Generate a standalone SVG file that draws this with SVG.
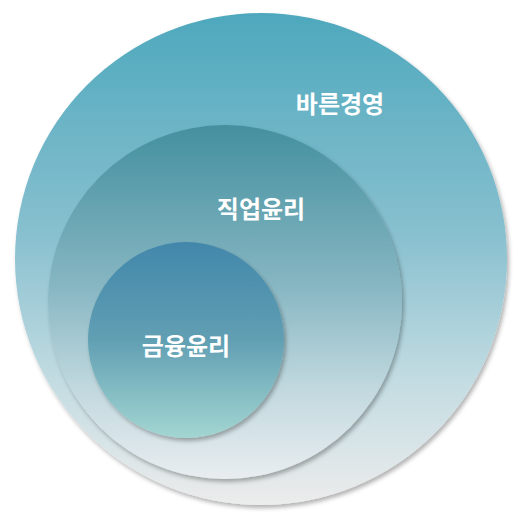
<svg xmlns="http://www.w3.org/2000/svg" width="525" height="521" viewBox="0 0 525 521">
<defs>
<linearGradient id="gOuter" x1="0" y1="0" x2="0" y2="1">
<stop offset="0" stop-color="#4ea8bd"/>
<stop offset="0.45" stop-color="#88c0cf"/>
<stop offset="0.75" stop-color="#c3dce2"/>
<stop offset="1" stop-color="#ececec"/>
</linearGradient>
<linearGradient id="gMid" x1="0" y1="0" x2="0" y2="1">
<stop offset="0" stop-color="#44909f"/>
<stop offset="0.45" stop-color="#86b6c2"/>
<stop offset="0.75" stop-color="#c2d9df"/>
<stop offset="1" stop-color="#e9edf0"/>
</linearGradient>
<linearGradient id="gIn" x1="0" y1="0" x2="0" y2="1">
<stop offset="0" stop-color="#4287ab"/>
<stop offset="0.5" stop-color="#619fb3"/>
<stop offset="1" stop-color="#a3d6d2"/>
</linearGradient>
<filter id="sh" x="-10%" y="-10%" width="125%" height="125%">
<feDropShadow dx="2" dy="3" stdDeviation="2" flood-color="#000" flood-opacity="0.3"/>
</filter>
</defs>
<style>
.lbl{font-family:"Noto Sans CJK KR","Noto Sans",sans-serif;font-weight:bold;font-size:24px;fill:#ffffff;text-anchor:middle}
</style>
<g id="outer">
<circle cx="261" cy="259" r="246" fill="url(#gOuter)" filter="url(#sh)"/>
<text class="lbl" x="340" y="113">바른경영</text>
</g>
<g id="middle">
<circle cx="225" cy="302" r="177" fill="url(#gMid)" filter="url(#sh)"/>
<text class="lbl" x="261" y="218">직업윤리</text>
</g>
<g id="inner">
<circle cx="186" cy="340" r="98" fill="url(#gIn)" filter="url(#sh)"/>
<text class="lbl" x="186" y="355">금융윤리</text>
</g>
<g id="connectors"/>
</svg>
